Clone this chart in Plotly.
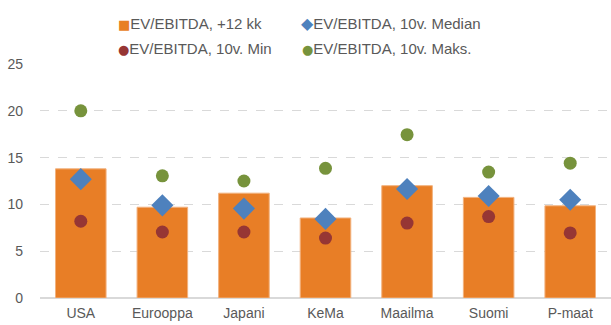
import plotly.graph_objects as go

categories = ["USA", "Eurooppa", "Japani", "KeMa", "Maailma", "Suomi", "P-maat"]
ev_12kk = [13.8, 9.7, 11.2, 8.55, 12.0, 10.75, 9.85]
ev_median = [12.7, 9.9, 9.55, 8.45, 11.65, 10.9, 10.5]
ev_min = [8.2, 7.05, 7.05, 6.4, 8.0, 8.7, 6.95]
ev_max = [20.0, 13.05, 12.5, 13.85, 17.45, 13.45, 14.4]

series_names = ["EV/EBITDA, +12 kk", "EV/EBITDA, 10v. Median", "EV/EBITDA, 10v. Min", "EV/EBITDA, 10v. Maks."]
colors = ["#E87E26", "#4E81BD", "#963634", "#77933C"]
glyphs = ["■", "◆", "●", "●"]
glyph_sizes = [13, 16, 13, 13]

font_family = "Liberation Sans, Arial, sans-serif"
txt = "#595959"

W, H = 611, 325
ML, MR, MT, MB = 40, 0, 64, 27
PW, PH = W - ML - MR, H - MT - MB

fig = go.Figure()
fig.add_trace(go.Bar(x=categories, y=ev_12kk, name=series_names[0],
                     marker=dict(color=colors[0], line=dict(color="#F2B27E", width=1)),
                     width=0.62))
fig.add_trace(go.Scatter(x=categories, y=ev_median, name=series_names[1], mode="markers",
                         marker=dict(symbol="diamond", size=17, color=colors[1])))
fig.add_trace(go.Scatter(x=categories, y=ev_min, name=series_names[2], mode="markers",
                         marker=dict(symbol="circle", size=13, color=colors[2])))
fig.add_trace(go.Scatter(x=categories, y=ev_max, name=series_names[3], mode="markers",
                         marker=dict(symbol="circle", size=13, color=colors[3])))

# custom compact legend (symbol right next to text, 2x2 layout)
leg_pos = [(116, 24), (299, 24), (116, 48), (300, 48)]
annotations = []
for name, col, g, gs, (px, py) in zip(series_names, colors, glyphs, glyph_sizes, leg_pos):
    annotations.append(dict(
        x=(px - ML) / PW, y=1 + (MT - py) / PH, xref="paper", yref="paper",
        xanchor="left", yanchor="middle", showarrow=False,
        text=f"<span style='color:{col};font-size:{gs}px;font-family:DejaVu Sans'>{g}</span>{name}",
        font=dict(family=font_family, size=15, color=txt),
    ))

fig.update_layout(
    width=W, height=H,
    margin=dict(l=ML, r=MR, t=MT, b=MB),
    plot_bgcolor="white", paper_bgcolor="white",
    font=dict(family=font_family, size=14, color=txt),
    showlegend=False,
    annotations=annotations,
    xaxis=dict(showgrid=False, showline=False, ticks="", tickfont=dict(size=14, color=txt),
               range=[-0.5, 6.5], ticklabelstandoff=5),
    yaxis=dict(range=[0, 25], dtick=5, showgrid=True, gridcolor="#D9D9D9", griddash="dash",
               gridwidth=1, zeroline=True, zerolinecolor="#D9D9D9", zerolinewidth=1.5,
               showline=False, ticks="", tickfont=dict(size=14, color=txt), ticklabelstandoff=16),
)

fig.write_html("out.html")
